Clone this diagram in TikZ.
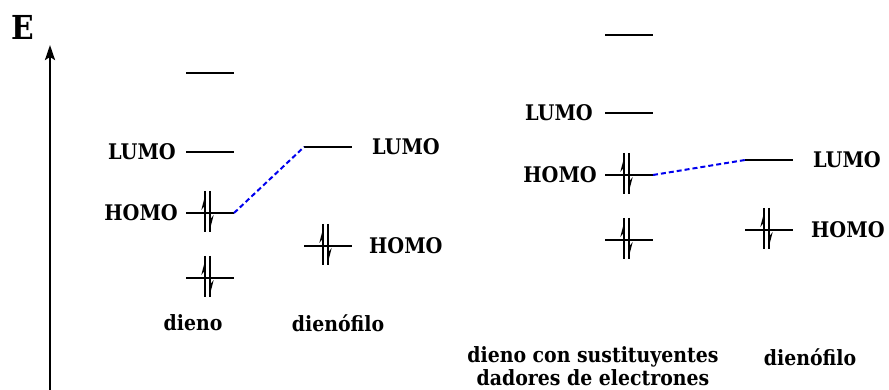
\documentclass[tikz,border=0pt]{standalone}
\usepackage{fontspec}
\setmainfont{DejaVu Serif Condensed}
\usetikzlibrary{calc,positioning,arrows.meta}
\definecolor{link}{RGB}{0,0,238}
\tikzset{
  level/.style={line width=1.3pt},
  spin/.style={line width=2pt},
  orb/.style={font=\bfseries\fontsize{21.5}{25}\selectfont, inner sep=0pt},
  caption/.style={font=\bfseries\fontsize{21}{23}\selectfont, inner sep=0pt, align=center},
  corr/.style={link, line width=2pt, dash pattern=on 5pt off 3pt},
}
% an orbital level: name, left x, y
\newcommand{\level}[3]{%
  \coordinate (#1-l) at (#2,#3);
  \coordinate (#1-r) at (#2+48,#3);
  \draw[level] (#1-l) -- (#1-r);}
% a pair of electrons on a level
\newcommand{\epair}[1]{%
  \coordinate (#1-p) at ($(#1-l)+(21.5,0)$);
  \draw[spin] ($(#1-p)+(-2.3,-22)$) -- ($(#1-p)+(-2.3,19)$);
  \draw[spin] ($(#1-p)+(2.3,-22)$) -- ($(#1-p)+(2.3,19)$);
  \fill ($(#1-p)+(-2.3,-18)$) -- ($(#1-p)+(-6.2,-3)$) -- ($(#1-p)+(-2.3,-8)$) -- cycle;
  \fill ($(#1-p)+(2.3,17)$) -- ($(#1-p)+(6.2,2)$) -- ($(#1-p)+(2.3,7)$) -- cycle;}

\begin{document}
\begin{tikzpicture}[x=1pt,y=-1pt]
  \useasboundingbox (0,0) rectangle (889,390);

  % energy axis
  \coordinate (ax0) at (50,390);
  \coordinate (ax1) at (50,45);
  \draw[line width=2.4pt, -{Stealth[length=15pt,width=10pt,inset=3pt]}] (ax0) -- (ax1);
  \node[font=\bfseries\fontsize{33}{36}\selectfont, inner sep=0pt] (E) at (23,27) {E};

  % dieno / dienofilo
  \level{a1}{186}{73}
  \level{aL}{186}{152}
  \level{aH}{186}{213}
  \level{a0}{186}{278}
  \level{bL}{304}{147}
  \level{bH}{304}{246}
  \epair{aH} \epair{a0} \epair{bH}
  \node[orb, left=10pt of aL-l] (aL-t) {LUMO};
  \node[orb, left=8pt of aH-l] (aH-t) {HOMO};
  \node[orb, right=20pt of bL-r] (bL-t) {LUMO};
  \node[orb, right=17pt of bH-r] (bH-t) {HOMO};
  \draw[corr] (aH-r) -- (bL-l);
  \node[caption] (a-c) at (193,323) {dieno};
  \node[caption] (b-c) at (338,323) {dienófilo};

  % dieno con sustituyentes / dienofilo
  \level{c1}{605}{35}
  \level{cL}{605}{113}
  \level{cH}{605}{175}
  \level{c0}{605}{240}
  \level{dL}{745}{160}
  \level{dH}{745}{230}
  \epair{cH} \epair{c0} \epair{dH}
  \node[orb, left=12pt of cL-l] (cL-t) {LUMO};
  \node[orb, left=8pt of cH-l] (cH-t) {HOMO};
  \node[orb, right=20pt of dL-r] (dL-t) {LUMO};
  \node[orb, right=18pt of dH-r] (dH-t) {HOMO};
  \draw[corr] (cH-r) -- (dL-l);
  \node[caption] (c-c) at (593,366) {dieno con sustituyentes\\dadores de electrones};
  \node[caption] (d-c) at (810,357) {dienófilo};
\end{tikzpicture}
\end{document}
